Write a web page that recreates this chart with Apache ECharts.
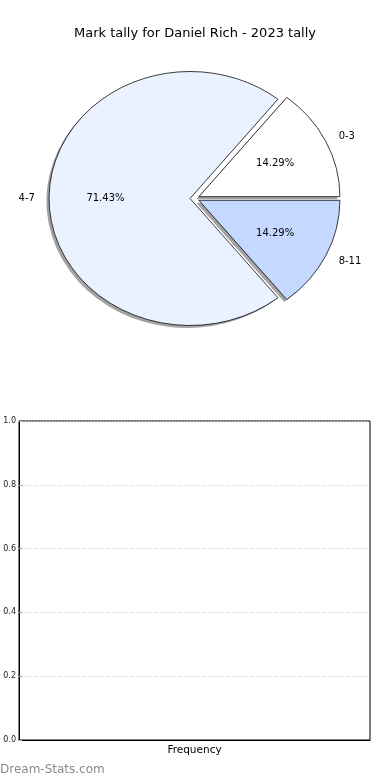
<!DOCTYPE html>
<html><head><meta charset="utf-8">
<script src="https://cdn.jsdelivr.net/npm/echarts@6/dist/echarts.min.js"></script>
<style>html,body{margin:0;padding:0;background:#fff}#c{width:390px;height:780px}</style>
</head><body><div id="c"></div>
<script>
const titleText = 'Mark tally for Daniel Rich - 2023 tally';
const categories = ['0-3', '4-7', '8-11'];
const values = [1, 5, 1];
const sliceColors = ['#ffffff', '#eaf1ff', '#c5d8ff'];
const explode = [0.033, 0.033, 0.033];
const yTicks = [0, 0.2, 0.4, 0.6, 0.8, 1.0];
const barCategories = [];
const barValues = [];
const watermark = 'Dream-Stats.com';

const FONT = 'DejaVu Sans';
const total = values.reduce((a, b) => a + b, 0);
const PC = { cx: 194.7, cy: 198.5, rx: 141, ry: 127 };

function sliceGeom(i) {
  let start = 0;
  for (let k = 0; k < i; k++) start += values[k] / total * 2 * Math.PI;
  const end = start + values[i] / total * 2 * Math.PI;
  const mid = (start + end) / 2;
  const ox = PC.cx + explode[i] * PC.rx * Math.cos(mid);
  const oy = PC.cy - explode[i] * PC.ry * Math.sin(mid);
  return { start, end, mid, ox, oy };
}

function sectorEl(i, dx, dy, style) {
  const g = sliceGeom(i);
  return {
    type: 'sector',
    x: g.ox + dx, y: g.oy + dy,
    scaleY: PC.ry / PC.rx,
    shape: { cx: 0, cy: 0, r: PC.rx, r0: 0, startAngle: -g.end, endAngle: -g.start, clockwise: true },
    style: style
  };
}

const chart = echarts.init(document.getElementById('c'), null, { renderer: 'canvas' });
chart.setOption({
  animation: false,
  title: {
    text: titleText, left: 'center', top: 22,
    textStyle: { fontFamily: FONT, fontSize: 13, fontWeight: 'normal', color: '#000' }
  },
  graphic: [{
    type: 'text', left: 0, top: 764,
    style: { text: watermark, fill: '#8a8a8a', font: '12px "DejaVu Sans"' }
  }],
  grid: { left: 19, right: 20, top: 421, bottom: 40, show: true, borderColor: '#000', borderWidth: 1 },
  xAxis: {
    type: 'value', min: 0, max: 1,
    name: 'Frequency', nameLocation: 'middle', nameGap: 5,
    nameTextStyle: { fontFamily: FONT, fontSize: 10.5, color: '#000' },
    axisLine: { show: true, lineStyle: { color: '#000', width: 1 } },
    axisTick: { show: false }, axisLabel: { show: false }, splitLine: { show: false }
  },
  yAxis: {
    type: 'value', min: yTicks[0], max: yTicks[yTicks.length - 1], interval: 0.2,
    axisLine: { show: true, lineStyle: { color: '#000', width: 1 } },
    axisTick: { show: true, inside: true, length: 3, lineStyle: { color: '#aaa' } },
    axisLabel: { fontFamily: FONT, fontSize: 8, color: '#222', margin: 3, formatter: v => v.toFixed(1) },
    splitLine: { show: true, lineStyle: { color: '#c4c4c4', type: [1, 2], width: 1 } }
  },
  series: [
    { type: 'bar', data: barValues },
    {
      type: 'custom', coordinateSystem: 'none', silent: true,
      data: values,
      renderItem: (params) => sectorEl(params.dataIndex, -2.6, 2.5, { fill: '#a3a3a3', stroke: null })
    },
    {
      type: 'custom', coordinateSystem: 'none', silent: true,
      data: values,
      renderItem: (params) => {
        const i = params.dataIndex;
        const g = sliceGeom(i);
        const c = Math.cos(g.mid), s = Math.sin(g.mid);
        const lx = g.ox + 1.1 * PC.rx * c, ly = g.oy - 1.1 * PC.ry * s;
        const px = g.ox + 0.6 * PC.rx * c, py = g.oy - 0.6 * PC.ry * s;
        const pct = (values[i] / total * 100).toFixed(2) + '%';
        return {
          type: 'group',
          children: [
            sectorEl(i, 0, 0, { fill: sliceColors[i], stroke: '#000', lineWidth: 0.8 }),
            { type: 'text', x: lx, y: ly, style: { text: categories[i], fill: '#000', font: '10px "DejaVu Sans"', align: c > 0 ? 'left' : 'right', verticalAlign: 'middle' } },
            { type: 'text', x: px, y: py, style: { text: pct, fill: '#000', font: '10px "DejaVu Sans"', align: 'center', verticalAlign: 'middle' } }
          ]
        };
      }
    }
  ]
});
</script>
</body></html>
